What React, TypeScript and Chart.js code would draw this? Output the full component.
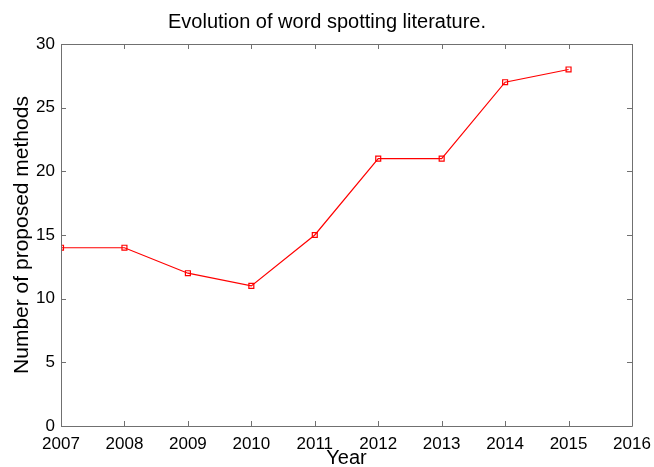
import React, { useEffect, useRef } from "react";
import { Chart, registerables } from "chart.js";

Chart.register(...registerables);

const years = [2007, 2008, 2009, 2010, 2011, 2012, 2013, 2014, 2015];
const methods = [14, 14, 12, 11, 15, 21, 21, 27, 28];
const titleText = "Evolution of word spotting literature.";
const xLabel = "Year";
const yLabel = "Number of proposed methods";

const AXIS_COLOR = "#707070";
const FONT = "'Liberation Sans', Arial, sans-serif";

const boxPlugin = {
  id: "matlabBox",
  afterDatasetsDraw(chart: any) {
    const { ctx, chartArea } = chart;
    const { left, right, top, bottom } = chartArea;
    const xs = chart.scales.x;
    const ys = chart.scales.y;
    const tl = 5;
    ctx.save();
    ctx.strokeStyle = AXIS_COLOR;
    ctx.lineWidth = 1;
    ctx.beginPath();
    ctx.rect(Math.round(left) + 0.5, Math.round(top) + 0.5, Math.round(right - left), Math.round(bottom - top));
    ctx.stroke();
    ctx.beginPath();
    xs.ticks.forEach((t: any) => {
      const px = Math.round(xs.getPixelForValue(t.value)) + 0.5;
      ctx.moveTo(px, bottom);
      ctx.lineTo(px, bottom - tl);
      ctx.moveTo(px, top);
      ctx.lineTo(px, top + tl);
    });
    ys.ticks.forEach((t: any) => {
      const py = Math.round(ys.getPixelForValue(t.value)) + 0.5;
      ctx.moveTo(left, py);
      ctx.lineTo(left + tl, py);
      ctx.moveTo(right, py);
      ctx.lineTo(right - tl, py);
    });
    ctx.stroke();
    ctx.restore();
  },
};

export default function App() {
  const ref = useRef<HTMLCanvasElement | null>(null);
  useEffect(() => {
    document.body.style.margin = "0";
    const canvas = ref.current!;
    const chart = new Chart(canvas, {
      type: "line",
      data: {
        datasets: [
          {
            data: years.map((y, i) => ({ x: y, y: methods[i] })),
            borderColor: "#ff0000",
            borderWidth: 1.2,
            pointStyle: "rect",
            pointRadius: 3.5,
            pointBorderWidth: 1.2,
            pointBackgroundColor: "rgba(0,0,0,0)",
            pointBorderColor: "#ff0000",
            tension: 0,
            yAxisID: "y",
          },
        ],
      },
      options: {
        responsive: false,
        animation: false,
        events: [],
        layout: { padding: { left: 0, right: 0, top: 0, bottom: 0 } },
        plugins: {
          legend: { display: false },
          tooltip: { enabled: false },
          title: {
            display: true,
            text: titleText,
            color: "#000",
            font: { family: FONT, size: 20, weight: "normal" },
            padding: { top: 10, bottom: 10 },
          },
        },
        scales: {
          x: {
            type: "linear",
            min: 2007,
            max: 2016,
            grid: { display: false, drawTicks: false },
            border: { display: false },
            ticks: {
              stepSize: 1,
              color: "#000",
              padding: 8,
              font: { family: FONT, size: 17 },
              callback: (v: any) => String(v),
              maxRotation: 0,
              autoSkip: false,
            },
            title: {
              display: true,
              text: xLabel,
              color: "#000",
              font: { family: FONT, size: 20 },
              padding: { top: 0, bottom: -3 },
            },
            afterFit: (s: any) => {
              s.height = 41;
              s.paddingLeft = 0;
              s.paddingRight = 0;
            },
          },
          y: {
            min: 0,
            max: 30,
            grid: { display: false, drawTicks: false },
            border: { display: false },
            ticks: {
              stepSize: 5,
              color: "#000",
              padding: 6,
              font: { family: FONT, size: 17 },
            },
            title: {
              display: true,
              text: yLabel,
              color: "#000",
              font: { family: FONT, size: 21 },
              padding: { top: 10, bottom: 0 },
            },
            afterFit: (s: any) => {
              s.width = 61;
              s.paddingTop = 0;
              s.paddingBottom = 0;
            },
          },
          yRight: {
            position: "right",
            min: 0,
            max: 30,
            grid: { display: false, drawTicks: false },
            border: { display: false },
            ticks: { display: false },
            afterFit: (s: any) => {
              s.width = 22;
              s.paddingTop = 0;
              s.paddingBottom = 0;
            },
          },
        },
      },
      plugins: [boxPlugin],
    });
    return () => chart.destroy();
  }, []);
  return <canvas ref={ref} width={654} height={467} style={{ display: "block" }} />;
}
